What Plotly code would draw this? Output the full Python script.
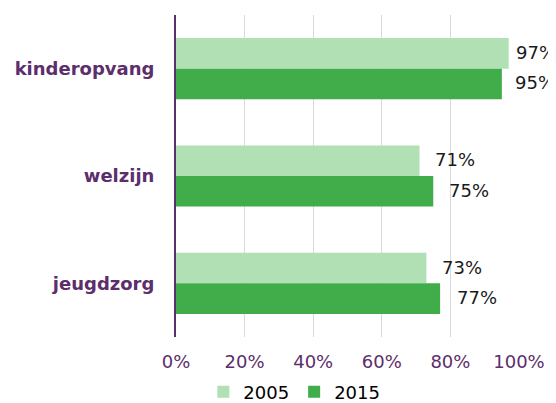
import plotly.graph_objects as go

categories = ["kinderopvang", "welzijn", "jeugdzorg"]
values_2005 = [97, 71, 73]
values_2015 = [95, 75, 77]
series_names = ["2005", "2015"]
x_ticks = [0, 20, 40, 60, 80, 100]
x_tick_labels = ["0%", "20%", "40%", "60%", "80%", "100%"]

color_2005 = "#b2e0b5"
color_2015 = "#40ad4a"
purple = "#5c2e6b"

fig = go.Figure()
fig.add_trace(go.Bar(y=categories, x=values_2005, orientation="h", name=series_names[0],
                     marker=dict(color=color_2005, line=dict(width=0))))
fig.add_trace(go.Bar(y=categories, x=values_2015, orientation="h", name=series_names[1],
                     marker=dict(color=color_2015, line=dict(width=0))))

# value labels (manual shifts mimic the reference label placement)
bar_half = (1 - 0.43) / 4
shifts_2005 = [5, 13, 14]
shifts_2015 = [11, 14, 15]
for i, cat in enumerate(categories):
    for vals, sign, shifts in ((values_2005, -1, shifts_2005), (values_2015, 1, shifts_2015)):
        fig.add_annotation(x=vals[i], y=i + sign * bar_half, xref="x", yref="y",
                           text=f"{vals[i]}%", showarrow=False, xanchor="left",
                           yanchor="middle", xshift=shifts[i], yshift=1,
                           font=dict(family="DejaVu Sans", size=18, color="#1a1a1a"))

# page body has an 8px default margin, so the figure is 8px smaller each way
fig.update_layout(
    width=548, height=395,
    margin=dict(l=168, r=37, t=7, b=66, autoexpand=False),
    paper_bgcolor="white", plot_bgcolor="white",
    barmode="group", bargap=0.43, bargroupgap=0,
    font=dict(family="DejaVu Sans", size=18, color="#000000"),
    showlegend=True,
    legend=dict(orientation="h", x=0.345, xanchor="center", y=-0.171, yanchor="middle",
                font=dict(size=18, color="#000000"), traceorder="normal"),
)
fig.update_xaxes(range=[0, 100], tickvals=x_ticks, ticktext=x_tick_labels,
                 showgrid=True, gridcolor="#d9d9d9", gridwidth=1, zeroline=False,
                 showline=False, ticks="", ticklabelstandoff=12, automargin=False,
                 tickfont=dict(size=18, color=purple))
fig.update_yaxes(autorange="reversed", showline=True, linecolor=purple, linewidth=2,
                 showgrid=False, ticks="", ticklabelstandoff=16, automargin=False,
                 tickfont=dict(size=18, color=purple, family="DejaVu Sans", weight="bold"))

fig.write_html("out.html")
